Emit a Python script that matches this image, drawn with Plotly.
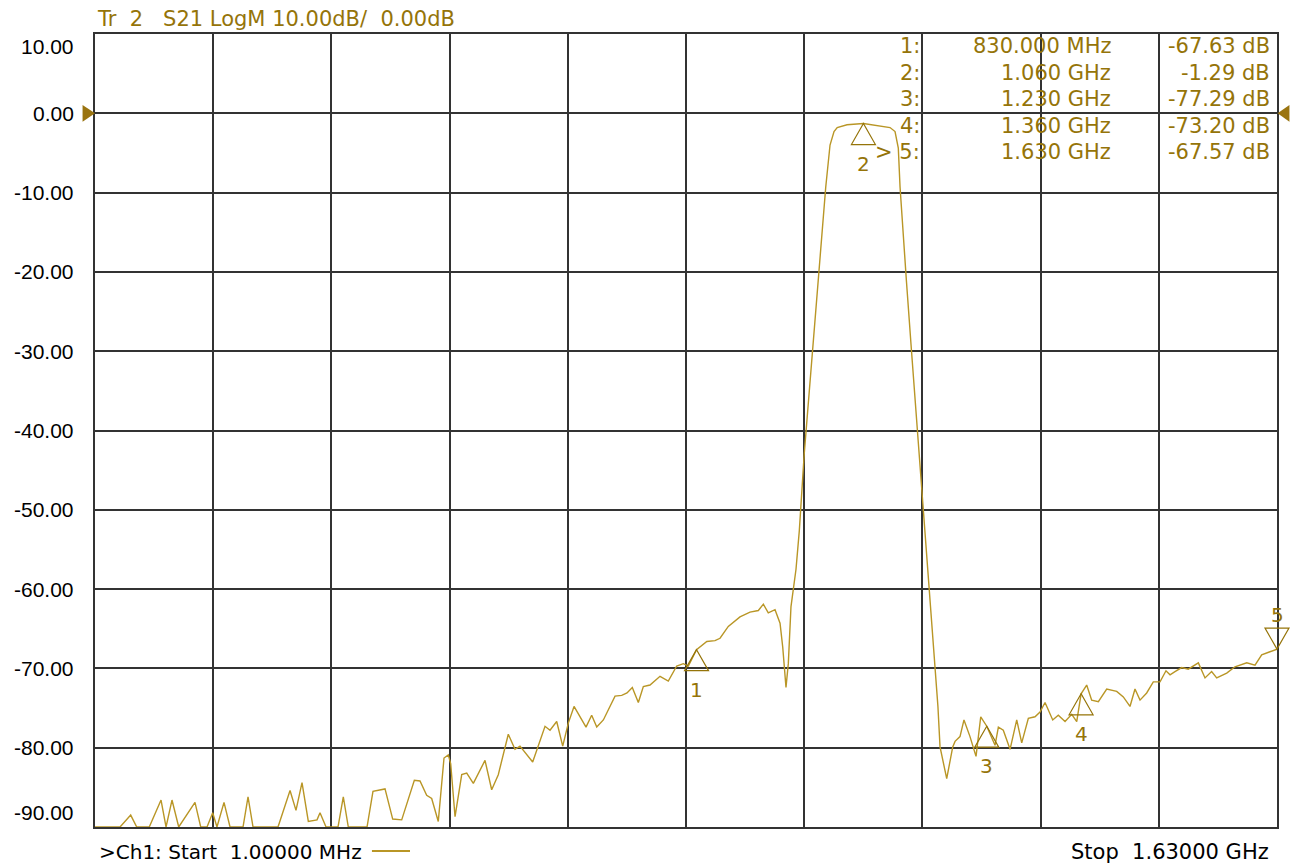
import plotly.graph_objects as go

# S21 sweep: frequency (MHz) and magnitude (dB), display clipped at -90 dB
freq_mhz = [
    1.0, 35.5, 50.2, 58.5, 75.8, 92.0, 98.9, 107.1, 116.4, 138.8,
    146.7, 155.4, 163.2, 169.1, 178.8, 187.1, 205.0, 211.9, 218.8, 253.2,
    269.8, 278.0, 286.3, 295.0, 307.0, 311.1, 319.4, 335.9, 343.2, 350.1,
    375.9, 384.1, 400.7, 411.3, 423.7, 441.1, 448.9, 458.1, 465.0, 474.1,
    482.0, 487.9, 491.2, 497.2, 506.4, 513.3, 522.4, 538.5, 547.7, 556.8,
    570.6, 579.8, 586.7, 604.2, 621.2, 628.1, 637.3, 645.6, 653.3, 661.2,
    677.7, 685.5, 692.5, 701.6, 717.7, 726.9, 734.2, 741.5, 749.8, 756.7,
    765.9, 779.7, 791.1, 802.7, 811.8, 818.7, 830.0, 844.2, 855.5, 862.4,
    873.8, 889.9, 903.7, 915.2, 922.1, 928.9, 938.2, 945.1, 948.8, 953.3,
    956.5, 960.2, 967.1, 971.7, 978.4, 983.0, 991.9, 1001.2, 1008.1, 1014.0,
    1019.5, 1023.9, 1037.4, 1060.0, 1082.9, 1096.7, 1103.6, 1108.1, 1110.5, 1114.9,
    1119.4, 1126.3, 1133.1, 1139.9, 1144.5, 1151.2, 1158.1, 1162.7, 1165.6, 1174.8,
    1183.1, 1186.3, 1193.1, 1198.6, 1206.9, 1215.2, 1221.7, 1230.0, 1241.4, 1246.0,
    1252.8, 1262.1, 1271.3, 1278.2, 1287.3, 1296.5, 1303.4, 1310.3, 1320.9, 1328.6,
    1337.9, 1347.1, 1354.0, 1360.0, 1367.7, 1374.6, 1383.8, 1395.3, 1409.1, 1418.2,
    1427.4, 1434.3, 1441.2, 1450.4, 1459.5, 1468.8, 1477.0, 1482.6, 1489.4, 1498.6,
    1507.7, 1521.6, 1530.8, 1539.9, 1546.9, 1560.7, 1572.1, 1588.3, 1599.7, 1608.9,
    1620.3, 1630.0,
]
s21_db = [
    -90.0, -90.0, -88.5, -90.0, -90.0, -86.6, -90.0, -86.6, -90.0, -86.9,
    -90.0, -90.0, -88.2, -90.0, -86.9, -90.0, -90.0, -86.2, -90.0, -90.0,
    -85.4, -87.9, -84.4, -89.3, -89.1, -88.2, -90.0, -90.0, -86.2, -90.0,
    -90.0, -85.5, -85.2, -89.0, -89.1, -84.1, -84.2, -86.0, -86.4, -89.3,
    -81.3, -80.9, -82.0, -88.7, -83.4, -83.2, -84.5, -81.6, -85.3, -83.4,
    -78.3, -80.2, -79.8, -81.8, -77.3, -77.8, -76.7, -79.8, -76.9, -74.8,
    -77.4, -75.9, -77.4, -76.5, -73.5, -73.4, -73.1, -72.4, -74.3, -72.3,
    -72.1, -71.0, -71.6, -69.7, -69.4, -69.7, -67.63, -66.6, -66.5, -66.2,
    -64.7, -63.5, -62.9, -62.7, -61.9, -63.0, -62.6, -64.3, -67.3, -72.4,
    -69.4, -62.2, -57.5, -52.6, -43.0, -37.7, -27.6, -17.9, -9.3, -4.0,
    -2.3, -1.8, -1.45, -1.29, -1.6, -1.8, -2.3, -4.4, -9.3, -15.5,
    -21.3, -30.0, -38.2, -46.9, -52.6, -59.9, -68.1, -74.8, -79.9, -83.9,
    -79.9, -79.2, -78.6, -76.5, -78.6, -81.1, -76.1, -77.29, -79.7, -77.4,
    -77.8, -80.2, -76.5, -79.4, -76.3, -76.1, -75.5, -74.3, -76.5, -75.9,
    -76.7, -75.8, -76.7, -73.2, -72.1, -74.0, -74.2, -72.6, -72.9, -73.6,
    -74.8, -72.6, -74.0, -73.1, -71.7, -71.7, -70.3, -70.8, -70.4, -69.9,
    -70.1, -69.3, -71.2, -70.4, -71.2, -70.6, -69.8, -69.3, -69.6, -68.3,
    -67.9, -67.57,
]

# Markers
marker_ids = [1, 2, 3, 4, 5]
marker_freq_mhz = [830.0, 1060.0, 1230.0, 1360.0, 1630.0]
marker_db = [-67.63, -1.29, -77.29, -73.20, -67.57]
active_marker = 5

# Axis settings
start_mhz, stop_mhz = 1.0, 1630.0
ref_db, scale_db, n_div = 0.0, 10.0, 10
y_top, y_bottom = 10.0, -90.0
y_tick_values = [10, 0, -10, -20, -30, -40, -50, -60, -70, -80, -90]

TRACE = "#B99626"
GOLD = "#957409"
GRID = "#333333"
NB = "\u00a0"


def x_frac(mhz):
    return (mhz - start_mhz) / (stop_mhz - start_mhz)


def y_frac(db):
    return (db - y_bottom) / (y_top - y_bottom)


fig = go.Figure()
fig.add_trace(go.Scatter(
    x=freq_mhz, y=s21_db, mode="lines",
    line=dict(color=TRACE, width=1.4), hoverinfo="skip", showlegend=False,
))

fig.update_layout(
    width=1290, height=864,
    margin=dict(l=95, r=13, t=34, b=37),
    paper_bgcolor="white", plot_bgcolor="white",
    showlegend=False,
    xaxis=dict(
        range=[start_mhz, stop_mhz], tick0=start_mhz,
        dtick=(stop_mhz - start_mhz) / n_div,
        showgrid=True, gridcolor=GRID, gridwidth=1.6,
        showticklabels=False, ticks="", zeroline=False,
        showline=True, linecolor=GRID, linewidth=1.8, mirror=True,
        layer="below traces",
    ),
    yaxis=dict(
        range=[y_bottom, y_top], dtick=scale_db,
        showgrid=True, gridcolor=GRID, gridwidth=1.6,
        showticklabels=False, ticks="", zeroline=False,
        showline=True, linecolor=GRID, linewidth=1.8, mirror=True,
        layer="below traces",
    ),
)

ann = []
shapes = []

# Y tick labels (top/bottom labels sit inside the frame)
for v in y_tick_values:
    shift = 0
    if v == y_top:
        shift = -12
    elif v == y_bottom:
        shift = 15
    ann.append(dict(
        x=-0.016, xref="paper", y=v, yref="y", yshift=shift,
        text=f"{v:.2f}", showarrow=False, xanchor="right", yanchor="middle",
        font=dict(family="Liberation Sans", size=21, color="#000000"),
    ))

# Reference level arrows
shapes.append(dict(
    type="path", xref="paper", yref="y",
    path=f"M -0.0105,{ref_db + 1.05} L 0,{ref_db} L -0.0105,{ref_db - 1.05} Z",
    fillcolor="#9A7410", line=dict(width=0),
))
shapes.append(dict(
    type="path", xref="paper", yref="y",
    path=f"M 1.0105,{ref_db + 1.05} L 1.0005,{ref_db} L 1.0105,{ref_db - 1.05} Z",
    fillcolor="#9A7410", line=dict(width=0),
))

# Trace header
ann.append(dict(
    x=0, xref="paper", y=1, yref="paper", yshift=15,
    text=f"Tr{NB}{NB}2{NB}{NB}{NB}S21 LogM 10.00dB/{NB}{NB}0.00dB",
    showarrow=False, xanchor="left", yanchor="middle",
    font=dict(family="DejaVu Sans", size=21, color=GOLD),
))

# Marker symbols and numbers (placed in paper units so edge markers aren't clipped)
for mid, f, v in zip(marker_ids, marker_freq_mhz, marker_db):
    if mid == active_marker:
        path = "M 0,0 L -12,21 L 12,21 Z"
        num_shift = 34
    else:
        path = "M 0,0 L -12,-21 L 12,-21 Z"
        num_shift = -40
    shapes.append(dict(
        type="path", xref="paper", yref="paper",
        xsizemode="pixel", ysizemode="pixel",
        xanchor=x_frac(f), yanchor=y_frac(v),
        path=path, line=dict(color=GOLD, width=1.2), fillcolor="rgba(0,0,0,0)",
    ))
    ann.append(dict(
        x=f, y=v, xref="x", yref="y", yshift=num_shift,
        text=str(mid), showarrow=False, xanchor="center", yanchor="middle",
        font=dict(family="DejaVu Sans", size=20, color=GOLD),
    ))

# Marker table
def fmt_freq(mhz):
    if mhz >= 1000:
        return f"{mhz / 1000:.3f} GHz"
    return f"{mhz:.3f} MHz"

row_px = [46, 73, 99, 126, 152]
for row, (mid, f, v) in enumerate(zip(marker_ids, marker_freq_mhz, marker_db)):
    yp = 1 - (row_px[row] - 34) / 793
    idx = f">{NB}{mid}:" if mid == active_marker else f"{mid}:"
    for xp, txt in ((0.6997, idx), (0.8613, fmt_freq(f)), (0.996, f"{v:.2f} dB")):
        ann.append(dict(
            x=xp, xref="paper", y=yp, yref="paper", text=txt,
            showarrow=False, xanchor="right", yanchor="middle",
            font=dict(family="DejaVu Sans", size=21, color=GOLD),
        ))

# Footer: start / stop
ann.append(dict(
    x=0.0017, xref="paper", y=0, yref="paper", yshift=-25,
    text=f">Ch1:{NB}Start{NB}{NB}{start_mhz:.5f} MHz",
    showarrow=False, xanchor="left", yanchor="middle",
    font=dict(family="DejaVu Sans", size=20, color="#000000"),
))
ann.append(dict(
    x=0.9952, xref="paper", y=0, yref="paper", yshift=-25,
    text=f"Stop{NB}{NB}{stop_mhz / 1000:.5f} GHz",
    showarrow=False, xanchor="right", yanchor="middle",
    font=dict(family="DejaVu Sans", size=21, color="#000000"),
))
shapes.append(dict(
    type="line", xref="paper", yref="paper",
    x0=0.2343, x1=0.2665, y0=-0.0303, y1=-0.0303,
    line=dict(color=TRACE, width=2),
))

fig.update_layout(annotations=ann, shapes=shapes)
fig.write_html("out.html")
